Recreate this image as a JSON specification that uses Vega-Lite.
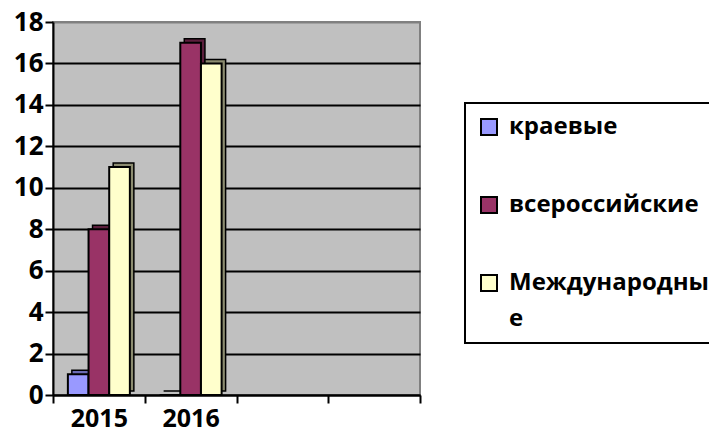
{
  "$schema": "https://vega.github.io/schema/vega-lite/v6.json",
  "width": 367,
  "height": 373,
  "autosize": "none",
  "padding": {"left": 53, "top": 22, "right": 289, "bottom": 41},
  "background": "white",
  "config": {
    "font": "Open Sans",
    "view": {"fill": "#C0C0C0", "stroke": "#808080", "strokeWidth": 2}
  },
  "data": {
    "values": [
      {"year": "2015", "series": "краевые", "value": 1},
      {"year": "2015", "series": "всероссийские", "value": 8},
      {"year": "2015", "series": "Международные", "value": 11},
      {"year": "2016", "series": "краевые", "value": 0},
      {"year": "2016", "series": "всероссийские", "value": 17},
      {"year": "2016", "series": "Международные", "value": 16}
    ]
  },
  "encoding": {
    "x": {
      "field": "year",
      "type": "nominal",
      "title": null,
      "scale": {"domain": ["2015", "2016", "c3", "c4"], "paddingInner": 0, "paddingOuter": 0},
      "axis": {
        "tickBand": "extent",
        "labelExpr": "datum.value == '2015' || datum.value == '2016' ? datum.value : ''",
        "labelAngle": 0,
        "domainColor": "black",
        "domainWidth": 2,
        "tickColor": "black",
        "tickWidth": 2,
        "tickSize": 8,
        "labelPadding": 3,
        "labelFontSize": 25,
        "labelFontWeight": "bold",
        "labelColor": "black",
        "grid": false
      }
    },
    "y": {
      "field": "value",
      "type": "quantitative",
      "title": null,
      "scale": {"domain": [0, 18]},
      "axis": {
        "values": [0, 2, 4, 6, 8, 10, 12, 14, 16, 18],
        "grid": true,
        "gridColor": {"condition": {"test": "datum.value == 18", "value": "#808080"}, "value": "black"},
        "gridWidth": 2,
        "domainColor": "black",
        "domainWidth": 2,
        "tickColor": "black",
        "tickWidth": 2,
        "tickSize": 8,
        "labelPadding": 2,
        "labelFontSize": 26,
        "labelFontWeight": "bold",
        "labelColor": "black"
      }
    }
  },
  "resolve": {"scale": {"xOffset": "independent"}},
  "layer": [
    {
      "mark": {"type": "bar", "yOffset": -4, "stroke": "black", "strokeWidth": 1.5},
      "encoding": {
        "xOffset": {
          "field": "series",
          "type": "nominal",
          "scale": {"domain": ["краевые", "всероссийские", "Международные"], "paddingOuter": 0.72, "paddingInner": 0, "align": 0.634}
        },
        "fill": {
          "condition": [
            {"test": "datum.series == 'краевые'", "value": "#6B6BB3"},
            {"test": "datum.series == 'всероссийские'", "value": "#5C1F3D"}
          ],
          "value": "#8C8C70"
        }
      }
    },
    {
      "mark": {"type": "bar", "stroke": "black", "strokeWidth": 2},
      "encoding": {
        "xOffset": {
          "field": "series",
          "type": "nominal",
          "scale": {"domain": ["краевые", "всероссийские", "Международные"], "paddingOuter": 0.72, "paddingInner": 0}
        },
        "color": {
          "field": "series",
          "type": "nominal",
          "scale": {"domain": ["краевые", "всероссийские", "Международные"], "range": ["#9999FF", "#993366", "#FFFFCC"]},
          "legend": {
            "orient": "none",
            "legendX": 412,
            "legendY": 81,
            "title": null,
            "strokeColor": "black",
            "fillColor": "white",
            "padding": 12,
            "rowPadding": 54,
            "symbolType": "square",
            "symbolSize": 256,
            "symbolStrokeColor": "black",
            "symbolStrokeWidth": 2,
            "symbolOpacity": 1,
            "labelFontSize": 24,
            "labelFontWeight": "bold",
            "labelColor": "black",
            "labelOffset": 8,
            "labelLimit": 300,
            "labelExpr": "datum.label == 'Международные' ? split('Международны|е', '|') : datum.label",
            "encode": {
              "legend": {"update": {"strokeWidth": {"value": 2}}},
              "labels": {"update": {"lineHeight": {"value": 36}}}
            }
          }
        }
      }
    }
  ]
}
